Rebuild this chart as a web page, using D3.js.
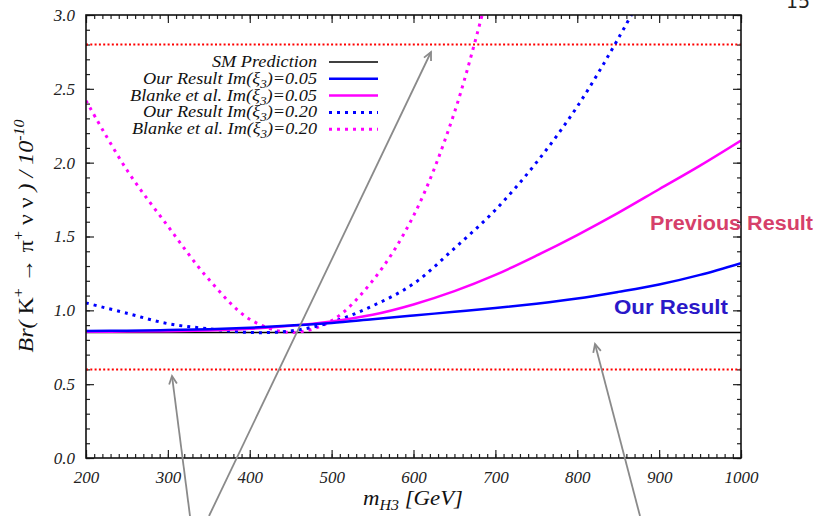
<!DOCTYPE html>
<html>
<head>
<meta charset="utf-8">
<script src="https://cdnjs.cloudflare.com/ajax/libs/d3/7.8.5/d3.min.js"></script>
<style>
  body { margin: 0; background: #fff; }
  svg { display: block; }
  .tick text, .lab { font-family: "Liberation Serif", "DejaVu Serif", serif; font-style: italic; }
</style>
</head>
<body>
<div id="chart"></div>
<script>
// data

var mass = [200, 250, 300, 350, 400, 450, 500, 550, 600, 650, 700, 750, 800, 850, 900, 950, 1000];
var ourResult005 = [0.86, 0.862, 0.866, 0.872, 0.882, 0.897, 0.915, 0.94, 0.965, 0.99, 1.015, 1.045, 1.08, 1.125, 1.175, 1.24, 1.32];
var blanke005 = [0.855, 0.856, 0.858, 0.864, 0.875, 0.895, 0.925, 0.97, 1.04, 1.13, 1.24, 1.37, 1.51, 1.66, 1.82, 1.98, 2.15];

var massOur020 = [200, 250, 300, 350, 400, 450, 500, 550, 600, 650, 700, 750, 800, 850, 900];
var ourResult020 = [1.05, 0.98, 0.91, 0.875, 0.85, 0.86, 0.92, 1.03, 1.18, 1.42, 1.68, 2.0, 2.38, 2.84, 3.35];

var massBlanke020 = [200, 250, 300, 350, 400, 450, 500, 550, 600, 650, 700];
var blanke020 = [2.42, 1.95, 1.57, 1.21, 0.94, 0.85, 0.93, 1.20, 1.64, 2.34, 3.35];

var smValue = 0.85;
var boundValues = [2.8, 0.6];

var legendLabels = ["SM Prediction", "Our Result Im(\u03BE3)=0.05", "Blanke et al. Im(\u03BE3)=0.05",
                    "Our Result Im(\u03BE3)=0.20", "Blanke et al. Im(\u03BE3)=0.20"];
var legendWidths = [105, 174, 187, 174, 185];

// layout

var svgWidth = 816;
var svgHeight = 516;
var margin = { top: 15, right: 75, bottom: 58, left: 86 };
var width = svgWidth - margin.left - margin.right;
var height = svgHeight - margin.top - margin.bottom;

var svg = d3.select("#chart").append("svg")
  .attr("width", svgWidth)
  .attr("height", svgHeight);

var chart = svg.append("g")
  .attr("transform", `translate(${margin.left}, ${margin.top})`);

var x = d3.scaleLinear().domain([200, 1000]).range([0, width]);
var y = d3.scaleLinear().domain([0, 3]).range([height, 0]);

svg.append("defs").append("clipPath").attr("id", "clip")
  .append("rect").attr("width", width).attr("height", height);

// ticks, inward on all four sides

var xMajor = d3.range(200, 1001, 100);
var xMinor = d3.range(200, 1001, 10);
var yMajor = d3.range(0, 3.01, 0.5);
var yMinor = d3.range(0, 3.01, 0.1);

chart.append("g").attr("transform", `translate(0, ${height})`)
  .call(d3.axisBottom(x).tickValues(xMinor).tickSize(-4).tickFormat(""))
  .call(g => g.select(".domain").remove());
chart.append("g").attr("transform", `translate(0, ${height})`)
  .call(d3.axisBottom(x).tickValues(xMajor).tickSize(-8).tickPadding(13).tickFormat(d3.format("d")))
  .call(g => g.select(".domain").remove());
chart.append("g")
  .call(d3.axisTop(x).tickValues(xMinor).tickSize(-4).tickFormat(""))
  .call(g => g.select(".domain").remove());
chart.append("g")
  .call(d3.axisTop(x).tickValues(xMajor).tickSize(-8).tickFormat(""))
  .call(g => g.select(".domain").remove());

chart.append("g")
  .call(d3.axisLeft(y).tickValues(yMinor).tickSize(-4).tickFormat(""))
  .call(g => g.select(".domain").remove());
chart.append("g")
  .call(d3.axisLeft(y).tickValues(yMajor).tickSize(-8).tickPadding(11).tickFormat(d3.format(".1f")))
  .call(g => g.select(".domain").remove());
chart.append("g").attr("transform", `translate(${width}, 0)`)
  .call(d3.axisRight(y).tickValues(yMinor).tickSize(-4).tickFormat(""))
  .call(g => g.select(".domain").remove());
chart.append("g").attr("transform", `translate(${width}, 0)`)
  .call(d3.axisRight(y).tickValues(yMajor).tickSize(-8).tickFormat(""))
  .call(g => g.select(".domain").remove());

chart.selectAll(".tick line").attr("stroke", "#222").attr("stroke-width", 1.2);
chart.selectAll(".tick text").attr("font-size", 17).attr("fill", "#222");

// bounds and SM line

var plot = chart.append("g").attr("clip-path", "url(#clip)");

plot.selectAll(".bound")
  .data(boundValues)
  .enter()
  .append("line")
  .attr("x1", 0).attr("x2", width)
  .attr("y1", d => y(d)).attr("y2", d => y(d))
  .attr("stroke", "#ff0000")
  .attr("stroke-width", 2)
  .attr("stroke-dasharray", "2,2.3");

plot.append("line")
  .attr("x1", 0).attr("x2", width)
  .attr("y1", y(smValue)).attr("y2", y(smValue))
  .attr("stroke", "#000").attr("stroke-width", 1.5);

// curves

var line = d3.line().x(d => x(d[0])).y(d => y(d[1])).curve(d3.curveCatmullRom.alpha(0.5));

var series = [
  { xs: massBlanke020, ys: blanke020, color: "#ff00ff", dash: "3,5", w: 3 },
  { xs: massOur020, ys: ourResult020, color: "#0000ff", dash: "3,5", w: 3 },
  { xs: mass, ys: blanke005, color: "#ff00ff", dash: null, w: 2.5 },
  { xs: mass, ys: ourResult005, color: "#0000ff", dash: null, w: 2.5 }
];

series.forEach(s => {
  plot.append("path")
    .datum(s.xs.map((m, i) => [m, s.ys[i]]))
    .attr("d", line)
    .attr("fill", "none")
    .attr("stroke", s.color)
    .attr("stroke-width", s.w)
    .attr("stroke-dasharray", s.dash);
});

// frame

chart.append("rect")
  .attr("width", width).attr("height", height)
  .attr("fill", "none").attr("stroke", "#111").attr("stroke-width", 1.6);

// legend

var legendStyles = [
  { color: "#000", dash: null, w: 1.5 },
  { color: "#0000ff", dash: null, w: 2.5 },
  { color: "#ff00ff", dash: null, w: 2.5 },
  { color: "#0000ff", dash: "3,5", w: 3 },
  { color: "#ff00ff", dash: "3,5", w: 3 }
];

var legend = svg.append("g");
legendLabels.forEach((label, i) => {
  var cy = 62 + i * 16.8;
  var t = legend.append("text")
    .attr("class", "lab")
    .attr("x", 317).attr("y", cy + 5)
    .attr("text-anchor", "end")
    .attr("font-size", 16)
    .attr("textLength", legendWidths[i])
    .attr("lengthAdjust", "spacingAndGlyphs")
    .attr("fill", "#111");
  var sub = label.indexOf("\u03BE3");
  if (sub >= 0) {
    t.append("tspan").text(label.slice(0, sub + 1));
    t.append("tspan").attr("dy", 4).attr("font-size", 11.5).text("3");
    t.append("tspan").attr("dy", -4).text(label.slice(sub + 2));
  } else {
    t.text(label);
  }
  legend.append("line")
    .attr("x1", 329).attr("x2", 378)
    .attr("y1", cy).attr("y2", cy)
    .attr("stroke", legendStyles[i].color)
    .attr("stroke-width", legendStyles[i].w)
    .attr("stroke-dasharray", legendStyles[i].dash);
});

// axis titles

var xt = svg.append("text").attr("class", "lab")
  .attr("x", 413).attr("y", 505)
  .attr("text-anchor", "middle").attr("font-size", 20).attr("fill", "#111")
  .attr("textLength", 100).attr("lengthAdjust", "spacingAndGlyphs");
xt.append("tspan").text("m");
xt.append("tspan").attr("dy", 5).attr("font-size", 14).text("H3");
xt.append("tspan").attr("dy", -5).text(" [GeV]");

var yt = svg.append("text").attr("class", "lab")
  .attr("transform", "translate(33, 236) rotate(-90)")
  .attr("text-anchor", "middle").attr("font-size", 21).attr("fill", "#111")
  .attr("textLength", 233).attr("lengthAdjust", "spacingAndGlyphs");
yt.append("tspan").text("Br( ");
yt.append("tspan").attr("font-style", "normal").text("K");
yt.append("tspan").attr("dy", -10).attr("font-size", 14).attr("font-style", "normal").text("+");
yt.append("tspan").attr("dy", 10).attr("font-style", "normal").text(" \u2192 \u03C0");
yt.append("tspan").attr("dy", -10).attr("font-size", 14).attr("font-style", "normal").text("+");
yt.append("tspan").attr("dy", 10).attr("font-style", "normal").text(" \u03BD \u03BD ");
yt.append("tspan").text(") / 10");
yt.append("tspan").attr("dy", -9).attr("font-size", 14).text("-10");

// coloured annotations

svg.append("text")
  .attr("x", 650).attr("y", 230)
  .attr("font-family", "'Liberation Sans', Arial, sans-serif").attr("font-weight", "bold")
  .attr("font-size", 20).attr("fill", "#d6406a")
  .attr("textLength", 163).attr("lengthAdjust", "spacingAndGlyphs")
  .text("Previous Result");

svg.append("text")
  .attr("x", 614).attr("y", 314)
  .attr("font-family", "'Liberation Sans', Arial, sans-serif").attr("font-weight", "bold")
  .attr("font-size", 21).attr("fill", "#2a18c8")
  .attr("textLength", 114).attr("lengthAdjust", "spacingAndGlyphs")
  .text("Our Result");

// page number (cut by the top edge, as in the source page)

svg.append("text")
  .attr("x", 786).attr("y", 8)
  .attr("font-family", "'DejaVu Sans', sans-serif")
  .attr("font-size", 19).attr("fill", "#222")
  .text("15");

// grey arrows from below the figure

var arrows = [
  [[190, 516], [172, 376]],
  [[209, 516], [431, 52]],
  [[640, 516], [595, 344]]
];

arrows.forEach(a => {
  var p0 = a[0], p1 = a[1];
  var ang = Math.atan2(p1[1] - p0[1], p1[0] - p0[0]);
  var hl = 9, spread = 0.45;
  svg.append("line")
    .attr("x1", p0[0]).attr("y1", p0[1]).attr("x2", p1[0]).attr("y2", p1[1])
    .attr("stroke", "#8a8a8a").attr("stroke-width", 1.8);
  svg.append("path")
    .attr("d", `M${p1[0] - hl * Math.cos(ang - spread)},${p1[1] - hl * Math.sin(ang - spread)}` +
               `L${p1[0]},${p1[1]}` +
               `L${p1[0] - hl * Math.cos(ang + spread)},${p1[1] - hl * Math.sin(ang + spread)}`)
    .attr("fill", "none").attr("stroke", "#8a8a8a").attr("stroke-width", 1.8);
});
</script>
</body>
</html>
